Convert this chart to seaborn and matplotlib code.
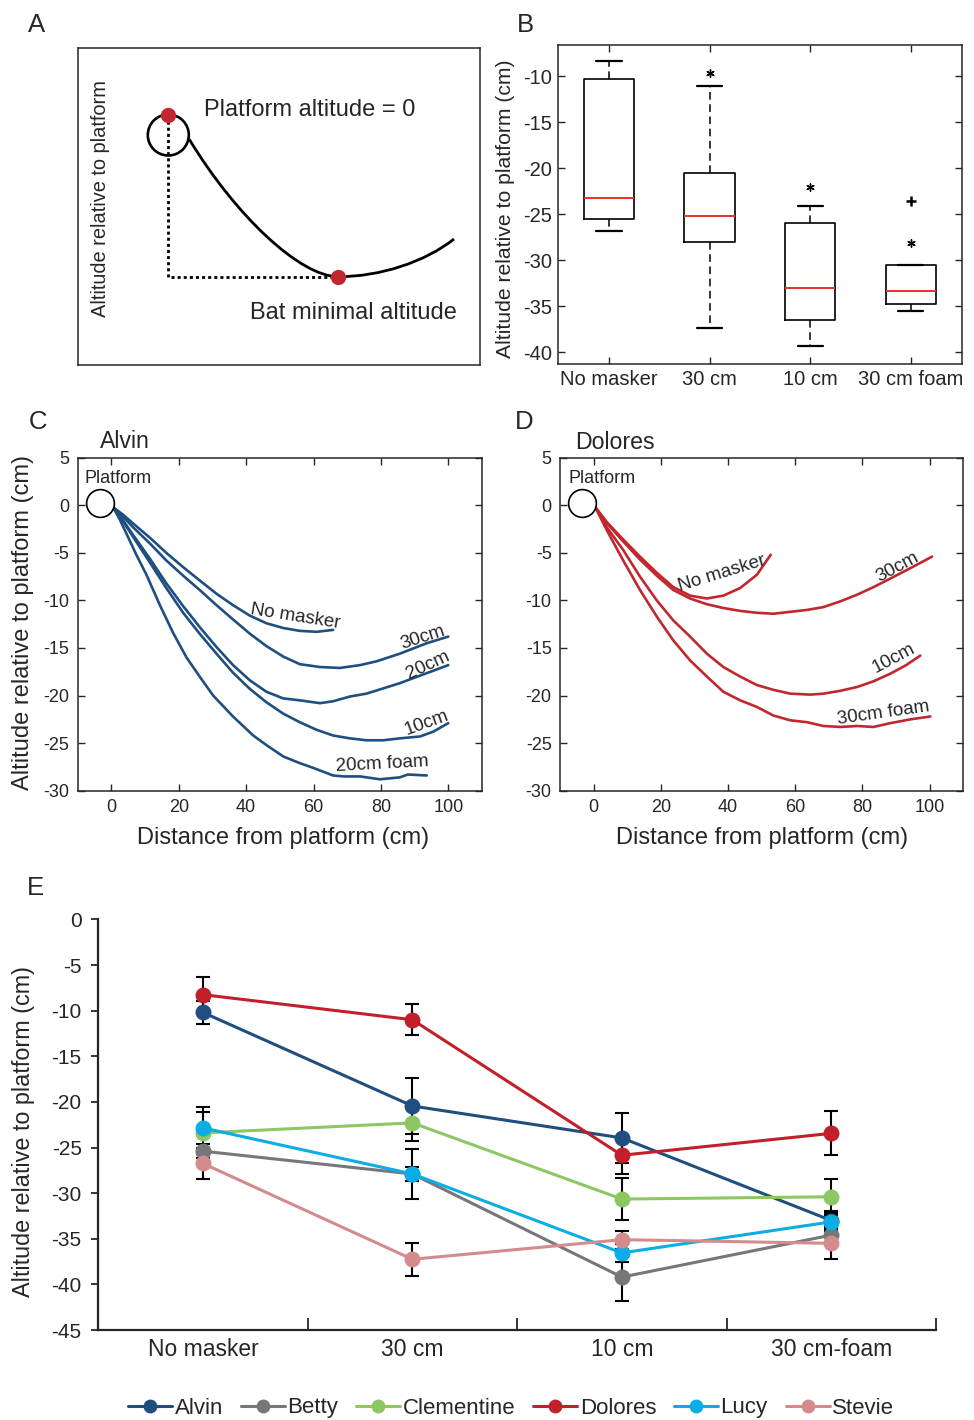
import numpy as np
import pandas as pd
import matplotlib
matplotlib.use("Agg")
import matplotlib.pyplot as plt
from matplotlib.patches import Circle, PathPatch
from matplotlib.path import Path
from matplotlib.lines import Line2D
import seaborn as sns

sns.set_style("ticks")
plt.rcParams['font.family'] = ['Liberation Sans', 'DejaVu Sans']
plt.rcParams['axes.linewidth'] = 1.1
plt.rcParams['xtick.major.width'] = 1.0
plt.rcParams['ytick.major.width'] = 1.0
plt.rcParams['axes.unicode_minus'] = False

# ---------------- Data ----------------
# Panel A schematic (drawn in picture units): Bezier control points of the flight path
a_path_x = [189.3, 235, 300, 338.3, 380, 425, 454]
a_path_y = [139.3, 215, 276.7, 276.7, 276.7, 262, 239]
a_platform_center = (168.3, 135)
a_platform_top = (168.3, 115)
a_minimum = (338.3, 276.7)

# Panel B box statistics
box_labels = ["No masker", "30 cm", "10 cm", "30 cm foam"]
box_whislo = [-26.8, -37.4, -39.35, -35.55]
box_q1 = [-25.5, -28.0, -36.5, -34.8]
box_med = [-23.2, -25.15, -33.0, -33.3]
box_q3 = [-10.3, -20.5, -25.95, -30.5]
box_whishi = [-8.35, -11.05, -24.05, -30.5]
star_pos = [2, 3, 4]
star_val = [-9.6, -22.0, -28.1]
plus_pos = [4]
plus_val = [-23.55]

# Panel C (Alvin) trajectories
c_nomask_x = [0.5, 3.5, 6.4, 11.4, 16.3, 21.3, 26.2, 31.2, 36.1, 41.1, 46.0, 51.0, 55.9, 60.9, 65.8]
c_nomask_y = [-0.2, -1.0, -1.9, -3.4, -5.0, -6.5, -7.9, -9.3, -10.5, -11.6, -12.4, -12.9, -13.2, -13.3, -13.1]
c_30_x = [0.5, 3.5, 6.4, 11.4, 16.3, 21.3, 26.2, 31.2, 36.1, 41.1, 46.0, 51.0, 55.9, 61.9, 67.8, 73.8, 78.7, 85.6, 93.6, 100]
c_30_y = [-0.2, -1.2, -2.3, -4.0, -5.8, -7.4, -8.9, -10.5, -12.0, -13.5, -14.8, -15.9, -16.7, -17.0, -17.1, -16.8, -16.4, -15.6, -14.5, -13.8]
c_20_x = [0.5, 3.5, 6.4, 11.4, 16.3, 21.3, 26.2, 31.2, 36.1, 41.1, 46.0, 51.0, 55.9, 61.9, 65.8, 70.8, 75.7, 85.6, 100]
c_20_y = [-0.2, -1.6, -3.1, -5.6, -8.2, -10.6, -12.8, -14.9, -16.8, -18.4, -19.6, -20.3, -20.5, -20.8, -20.6, -20.1, -19.8, -18.7, -16.8]
c_10_x = [0.5, 3.5, 6.4, 11.4, 16.3, 21.3, 26.2, 31.2, 36.1, 41.1, 46.0, 51.0, 55.9, 60.9, 65.8, 70.8, 75.7, 80.7, 85.6, 91.6, 95.5, 100]
c_10_y = [-0.2, -1.7, -3.3, -6.0, -8.7, -11.3, -13.5, -15.6, -17.6, -19.3, -20.7, -21.9, -22.8, -23.6, -24.2, -24.5, -24.7, -24.7, -24.5, -24.3, -23.8, -22.9]
c_foam_x = [0.5, 2.5, 4.5, 7.4, 10.4, 14.4, 18.3, 22.3, 26.2, 30.2, 36.1, 42.1, 46.0, 51.0, 55.9, 59.9, 65.8, 69.0, 73.8, 79.7, 85.6, 88.0, 93.6]
c_foam_y = [-0.2, -1.5, -3.0, -5.2, -7.3, -10.5, -13.4, -16.0, -18.0, -20.0, -22.2, -24.2, -25.2, -26.4, -27.1, -27.6, -28.4, -28.5, -28.5, -28.8, -28.6, -28.3, -28.4]

# Panel D (Dolores) trajectories
d_nomask_x = [0.5, 4, 8.8, 13.8, 18.8, 23.7, 28.7, 33.7, 38.6, 43.6, 48.6, 52.7]
d_nomask_y = [-0.2, -1.8, -3.6, -5.4, -7.1, -8.6, -9.5, -9.8, -9.5, -8.7, -7.3, -5.2]
d_30_x = [0.5, 4, 8.8, 13.8, 18.8, 23.7, 28.7, 33.7, 38.6, 43.6, 48.6, 53.5, 58.5, 63.5, 68.4, 73.4, 78.4, 83.3, 88.3, 94.3, 100.7]
d_30_y = [-0.2, -1.9, -3.8, -5.7, -7.4, -8.9, -9.8, -10.4, -10.8, -11.1, -11.3, -11.4, -11.2, -11.0, -10.7, -10.1, -9.4, -8.6, -7.7, -6.6, -5.4]
d_10_x = [0.5, 3.9, 8.8, 13.8, 18.8, 23.7, 28.7, 33.7, 38.6, 43.6, 48.6, 53.5, 58.5, 64.5, 68.4, 73.4, 78.4, 83.3, 88.3, 93, 97.2]
d_10_y = [-0.2, -2.3, -4.7, -7.5, -10.0, -12.1, -13.8, -15.6, -17.0, -18.0, -18.9, -19.4, -19.8, -19.9, -19.8, -19.5, -19.1, -18.5, -17.7, -16.8, -15.8]
d_foam_x = [0.5, 3.9, 8.8, 13.8, 18.8, 23.7, 28.7, 33.7, 38.6, 43.6, 48.6, 53.5, 58.5, 63.5, 68.4, 73.4, 78.4, 83.3, 88.3, 94.3, 100.2]
d_foam_y = [-0.2, -2.6, -5.8, -8.9, -11.7, -14.2, -16.3, -18.0, -19.6, -20.5, -21.2, -22.1, -22.6, -22.8, -23.2, -23.3, -23.2, -23.3, -22.9, -22.5, -22.2]

# Panel E means and error bars
conditions = ["No masker", "30 cm", "10 cm", "30 cm-foam"]
bats = ["Alvin", "Betty", "Clementine", "Dolores", "Lucy", "Stevie"]
alvin_mean = [-10.2, -20.45, -23.95, -33.0]
alvin_err = [1.3, 3.1, 2.7, 1.0]
betty_mean = [-25.4, -27.9, -39.2, -34.6]
betty_err = [0.75, 0.8, 2.6, 1.0]
clementine_mean = [-23.4, -22.3, -30.65, -30.4]
clementine_err = [2.3, 2.0, 2.3, 2.0]
dolores_mean = [-8.25, -11.0, -25.85, -23.45]
dolores_err = [1.9, 1.7, 2.0, 2.4]
lucy_mean = [-22.85, -27.9, -36.55, -33.15]
lucy_err = [2.3, 2.75, 1.0, 1.0]
stevie_mean = [-26.75, -37.25, -35.1, -35.5]
stevie_err = [1.75, 1.8, 1.0, 1.7]
bat_colors = ["#1f4e7f", "#75777a", "#8cc763", "#c1202b", "#0aade4", "#d48b8c"]

# ---------------- Figure ----------------
fig = plt.figure(figsize=(9.74, 14.2), dpi=100)
W, H = 974.0, 1420.0

def ax_px(left, top, right, bottom):
    return fig.add_axes([left / W, 1 - bottom / H, (right - left) / W, (bottom - top) / H])

RED_DOT = "#c3262f"

# ---- Panel A ----
axA = ax_px(78.3, 47.7, 480, 365)
axA.set_xlim(78.3, 480)
axA.set_ylim(365, 47.7)
axA.set_xticks([])
axA.set_yticks([])
for s in axA.spines.values():
    s.set_linewidth(1.1)
path = Path(list(zip(a_path_x, a_path_y)),
            [Path.MOVETO, Path.CURVE4, Path.CURVE4, Path.CURVE4, Path.CURVE4, Path.CURVE4, Path.CURVE4])
axA.add_patch(PathPatch(path, fill=False, edgecolor="black", linewidth=2.0, zorder=2))
axA.add_patch(Circle(a_platform_center, 20.5, fill=False, edgecolor="black", linewidth=1.9, zorder=3))
axA.plot([a_platform_top[0], a_platform_top[0], a_minimum[0]],
         [a_platform_top[1], a_minimum[1], a_minimum[1]], color="black",
         linestyle=(0, (1.1, 1.1)), linewidth=2.0, zorder=2)
axA.plot([a_platform_top[0], a_minimum[0]], [a_platform_top[1], a_minimum[1]], linestyle="none",
         marker="o", markersize=11, color=RED_DOT, markeredgewidth=0, zorder=4)
axA.text(204, 110, "Platform altitude = 0", fontsize=17, va="center", ha="left")
axA.text(250, 313, "Bat minimal altitude", fontsize=17, va="center", ha="left")
axA.text(101, 198.5, "Altitude relative to platform", fontsize=14.4, rotation=90, va="center", ha="center")

# ---- Panel B ----
axB = ax_px(557.7, 45, 962, 364.3)
stats = []
for i, lab in enumerate(box_labels):
    stats.append(dict(label=lab, whislo=box_whislo[i], q1=box_q1[i], med=box_med[i],
                      q3=box_q3[i], whishi=box_whishi[i], fliers=[]))
axB.bxp(stats, positions=[1, 2, 3, 4], widths=0.5, capwidths=0.25, showfliers=False,
        boxprops=dict(color="black", linewidth=1.2),
        whiskerprops=dict(color="black", linewidth=1.1, linestyle=(0, (5, 3))),
        capprops=dict(color="black", linewidth=1.6),
        medianprops=dict(color="#e8302a", linewidth=1.4))
axB.scatter(star_pos, star_val, marker=(6, 2, 0), s=28, color="black", linewidths=1.0, zorder=3)
axB.scatter(plus_pos, plus_val, marker="+", s=45, color="black", linewidths=1.8, zorder=3)
axB.set_xlim(0.49, 4.51)
axB.set_ylim(-41.3, -6.6)
axB.set_yticks([-40, -35, -30, -25, -20, -15, -10])
axB.set_xticks([1, 2, 3, 4])
axB.set_xticklabels(box_labels)
axB.tick_params(direction="in", top=True, right=True, length=5, labelsize=14.5, pad=4)
axB.set_ylabel("Altitude relative to platform (cm)", fontsize=15.2)
axB.yaxis.set_label_coords(-0.106, 0.487)

# ---- Panels C and D ----
def traj_frame(xs, ys, names):
    rows = []
    for x, y, n in zip(xs, ys, names):
        for xi, yi in zip(x, y):
            rows.append(dict(x=xi, y=yi, curve=n))
    return pd.DataFrame(rows)

df_c = traj_frame([c_nomask_x, c_30_x, c_20_x, c_10_x, c_foam_x],
                  [c_nomask_y, c_30_y, c_20_y, c_10_y, c_foam_y],
                  ["No masker", "30cm", "20cm", "10cm", "20cm foam"])
df_d = traj_frame([d_nomask_x, d_30_x, d_10_x, d_foam_x],
                  [d_nomask_y, d_30_y, d_10_y, d_foam_y],
                  ["No masker", "30cm", "10cm", "30cm foam"])

platform_xy = (-3.4, 0.2)

def style_traj(ax):
    ax.set_xlim(-10, 110)
    ax.set_ylim(-30, 5)
    ax.set_xticks([0, 20, 40, 60, 80, 100])
    ax.set_yticks([5, 0, -5, -10, -15, -20, -25, -30])
    ax.tick_params(direction="in", top=True, right=True, length=5, labelsize=13, pad=6)
    ax.plot([platform_xy[0]], [platform_xy[1]], marker="o", markersize=20, markerfacecolor="white",
            markeredgecolor="black", markeredgewidth=1.2, linestyle="none", zorder=5)
    ax.set_xlabel("Distance from platform (cm)", fontsize=17)
    ax.set_ylabel("")

BLUE = "#1f4f80"
RED = "#c1272d"

axC = ax_px(77.7, 457.7, 482, 790.7)
sns.lineplot(data=df_c, x="x", y="y", units="curve", estimator=None, sort=False, color=BLUE,
             linewidth=1.9, ax=axC, legend=False)
style_traj(axC)
axC.set_ylabel("Altitude relative to platform (cm)", fontsize=17)
axC.yaxis.set_label_coords(-0.108, 0.505)
axC.xaxis.set_label_coords(0.508, -0.11)
axC.text(-7.9, 2.37, "Platform", fontsize=13, ha="left", va="baseline")
axC.text(0.055, 1.028, "Alvin", fontsize=16.7, transform=axC.transAxes, ha="left", va="baseline")
for txt, x, y, r in [("No masker", 54.5, -11.7, -9), ("30cm", 92.4, -13.9, 18), ("20cm", 94, -16.8, 25),
                     ("10cm", 93.6, -22.9, 20), ("20cm foam", 80.5, -27.2, 3)]:
    axC.text(x, y, txt, fontsize=13.5, rotation=r, ha="center", va="center")

axD = ax_px(560, 457.7, 963.3, 790.7)
sns.lineplot(data=df_d, x="x", y="y", units="curve", estimator=None, sort=False, color=RED,
             linewidth=1.9, ax=axD, legend=False)
style_traj(axD)
axD.xaxis.set_label_coords(0.502, -0.11)
axD.text(-7.4, 2.37, "Platform", fontsize=13, ha="left", va="baseline")
axD.text(0.037, 1.025, "Dolores", fontsize=16.7, transform=axD.transAxes, ha="left", va="baseline")
for txt, x, y, r in [("No masker", 38.3, -7.2, 17), ("30cm", 90.5, -6.5, 28), ("10cm", 89.3, -16.1, 28),
                     ("30cm foam", 86.3, -21.8, 8)]:
    axD.text(x, y, txt, fontsize=13.5, rotation=r, ha="center", va="center")

# ---- Panel E ----
axE = ax_px(98.3, 919.4, 936, 1330)
means = [alvin_mean, betty_mean, clementine_mean, dolores_mean, lucy_mean, stevie_mean]
errs = [alvin_err, betty_err, clementine_err, dolores_err, lucy_err, stevie_err]
rows = []
for b, m, e in zip(bats, means, errs):
    for i in range(len(conditions)):
        rows.append(dict(bat=b, cond=i, alt=m[i], err=e[i]))
df_e = pd.DataFrame(rows)
axE.errorbar(df_e["cond"], df_e["alt"], yerr=df_e["err"], fmt="none", ecolor="black",
             elinewidth=1.5, capsize=5, capthick=1.5, zorder=1)
sns.lineplot(data=df_e, x="cond", y="alt", hue="bat", hue_order=bats, palette=bat_colors,
             marker="o", markersize=11.5, markeredgewidth=0, linewidth=2.2, errorbar=None,
             ax=axE, legend=False)
axE.set_xlim(-0.5, 3.5)
axE.set_ylim(-45, 0)
axE.set_yticks(list(range(0, -50, -5)))
axE.set_xticks([0, 1, 2, 3])
axE.set_xticklabels(conditions)
axE.set_xticks([0.5, 1.5, 2.5, 3.5], minor=True)
axE.tick_params(axis="x", which="major", length=0, labelsize=16.5, pad=6)
axE.tick_params(axis="x", which="minor", direction="in", length=9, width=1.3)
axE.tick_params(axis="y", direction="out", length=5, width=1.3, labelsize=15, pad=7)
for s in ["top", "right"]:
    axE.spines[s].set_visible(False)
for s in ["left", "bottom"]:
    axE.spines[s].set_linewidth(1.6)
axE.set_xlabel("")
axE.set_ylabel("Altitude relative to platform (cm)", fontsize=16.8)
axE.yaxis.set_label_coords(-0.0756, 0.484)

handles = [Line2D([0], [0], color=c, marker="o", markersize=10, markeredgewidth=0, linewidth=2.2)
           for c in bat_colors]
fig.legend(handles, bats, ncol=6, loc="center", bbox_to_anchor=(511 / W, 1 - 1408 / H), frameon=False,
           fontsize=16, handlelength=2.0, handletextpad=0.1, columnspacing=0.8, borderaxespad=0,
           borderpad=0)

# Panel letters
for letter, x, y in [("A", 37, 25), ("B", 525, 25), ("C", 38, 422), ("D", 524, 422), ("E", 35, 888)]:
    fig.text(x / W, 1 - y / H, letter, fontsize=18.5, ha="center", va="center")

fig.savefig("out.png", dpi=100)
